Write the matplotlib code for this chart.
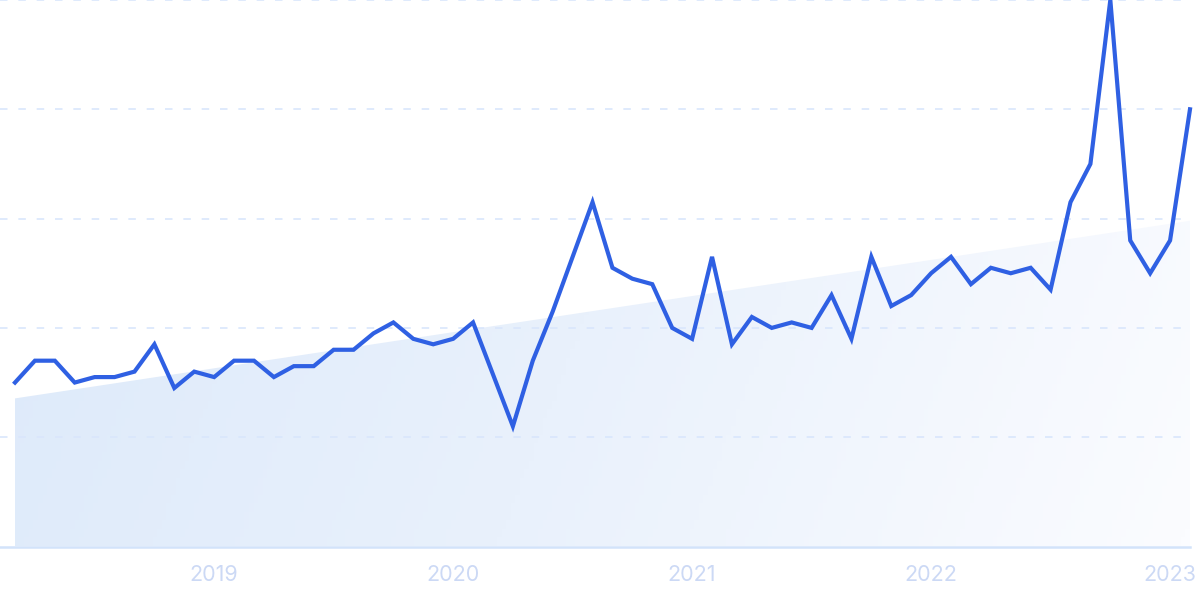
import numpy as np
import matplotlib
matplotlib.use("Agg")
import matplotlib.pyplot as plt
from matplotlib.colors import LinearSegmentedColormap
from matplotlib.patches import Polygon

# Monthly series, Mar 2018 .. Feb 2023 (60 months)
values = [30, 34, 34, 30, 31, 31, 32, 37, 29, 32,
          31, 34, 34, 31, 33, 33, 36, 36, 39, 41,
          38, 37, 38, 41, 31.5, 22, 34, 43, 53, 63,
          51, 49, 48, 40, 38, 53, 37, 42, 40, 41,
          40, 46, 38, 53, 44, 46, 50, 53, 48, 51,
          50, 51, 47, 63, 70, 100, 56, 50, 56, 80]
trend_start = 27.1
trend_end = 59.6
year_labels = ["2019", "2020", "2021", "2022", "2023"]
year_positions = [10, 22, 34, 46, 58]
grid_levels = [20, 40, 60, 80, 100]

W, H = 1200, 599
fig = plt.figure(figsize=(W / 100, H / 100), dpi=100)
bottom_px = 546.5
ax = fig.add_axes([0, (H - bottom_px) / H, 1, bottom_px / H])

step = 19.915
x0_px = 15
x = np.arange(len(values))
xmin = -x0_px / step
xmax = (W - x0_px) / step
ax.set_xlim(xmin, xmax)
ax.set_ylim(0, 100)

end_frac = (len(values) - 1 - xmin) / (xmax - xmin)

# gradient trend area
cmap = LinearSegmentedColormap.from_list("g", ["#dce9fa", "#e9f1fc", "#fbfcff"])
gx = np.linspace(0, 1, 256)
gy = np.linspace(0, 1, 64)
GX, GY = np.meshgrid(gx, gy)
grad = 0.85 * GX + 0.15 * (1 - GY)
im = ax.imshow(grad, extent=[0, len(values) - 1, 0, 100], origin="lower",
               aspect="auto", cmap=cmap, vmin=0, vmax=1, zorder=1)
poly = Polygon([[0, 0], [0, trend_start], [len(values) - 1, trend_end],
                [len(values) - 1, 0]], closed=True, transform=ax.transData,
               facecolor="none", edgecolor="none")
ax.add_patch(poly)
im.set_clip_path(poly)

# grid lines
for g in grid_levels:
    ax.axhline(g, xmin=0, xmax=end_frac, color="#d9e6fc", lw=1.2,
               dashes=(4.5, 6.5), zorder=2, clip_on=False)
ax.axhline(0, xmin=0, xmax=end_frac, color="#d2e3fa", lw=1.8, zorder=2,
           clip_on=False)

ax.plot(x, values, color="#2f60e3", lw=3.0, solid_joinstyle="miter",
        zorder=3)

for s in ax.spines.values():
    s.set_visible(False)
ax.set_yticks([])
ax.set_xticks(year_positions)
ax.set_xticklabels(year_labels, fontfamily="Inter", fontsize=15.5,
                   color="#ccd9f5")
ax.tick_params(axis="x", length=0, pad=13)

fig.savefig("out.png", dpi=100, facecolor="white")
